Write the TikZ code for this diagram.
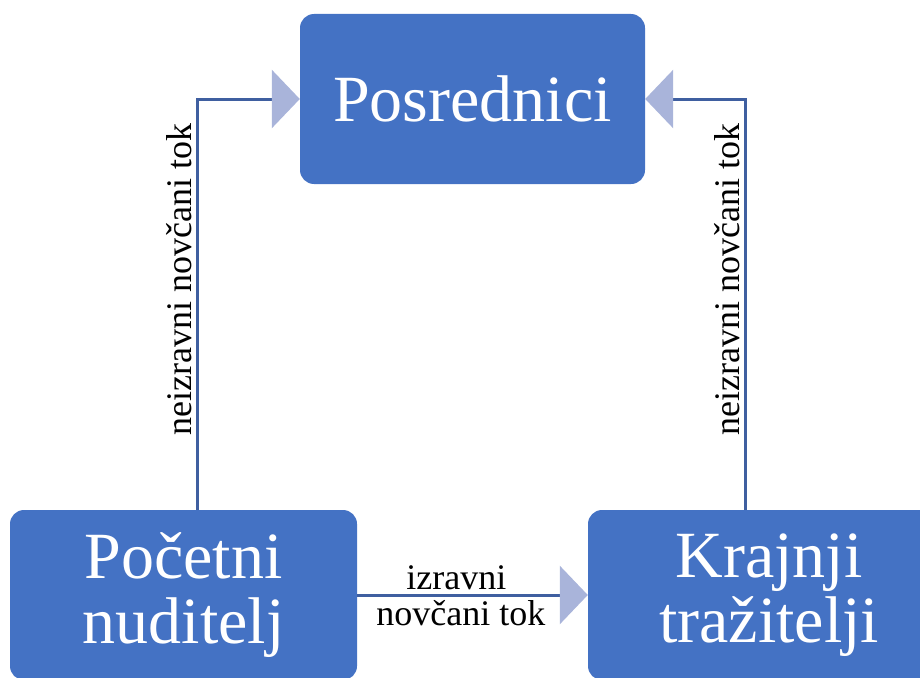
\documentclass[tikz,border=0pt]{standalone}
\usepackage{fontspec}
\setmainfont{Liberation Serif}
\usetikzlibrary{arrows.meta}
\definecolor{boxblue}{HTML}{4472C4}
\definecolor{linec}{HTML}{3F5FA0}
\definecolor{tipc}{HTML}{A9B4DA}
\begin{document}
\begin{tikzpicture}[x=1pt,y=-1pt,
  box/.style={fill=boxblue, rounded corners=14pt, text=white, font=\fontsize{66}{65}\selectfont, align=center, inner sep=0pt},
  conn/.style={draw=linec, line width=3pt, -{Triangle[length=28pt,width=58pt,color=tipc]}},
  lbl/.style={font=\fontsize{36}{37}\selectfont, inner sep=4pt}]
\useasboundingbox (0,0) rectangle (920,677);
\clip (0,0) rectangle (920,677);
\node[box, minimum width=345pt, minimum height=170pt] (pos) at (472.5,99) {Posrednici};
\node[box, minimum width=347pt, minimum height=170pt] (pn) at (183.5,595) {Početni\\nuditelj};
\node[box, minimum width=362pt, minimum height=170pt] (kt) at (769,595) {Krajnji\\tražitelji};
\draw[conn] ([xshift=13.5pt]pn.north) |- (pos.west) node[lbl, pos=0.28, rotate=90, above] {neizravni novčani tok};
\draw[conn] ([xshift=-24pt]kt.north) |- (pos.east) node[lbl, pos=0.28, rotate=90, above] {neizravni novčani tok};
\draw[conn] (pn) -- (kt)
  node[lbl, pos=0.43, above] {izravni}
  node[lbl, pos=0.45, below] {novčani tok};
\end{tikzpicture}
\end{document}
